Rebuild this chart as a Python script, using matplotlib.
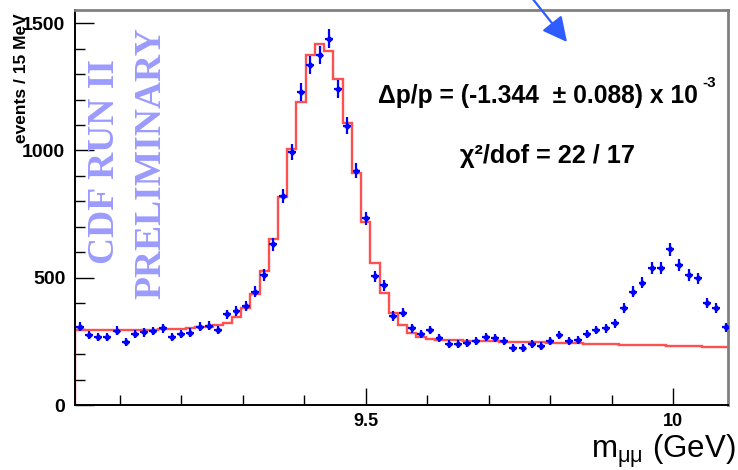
import numpy as np
import matplotlib
matplotlib.use("Agg")
import matplotlib.pyplot as plt
from matplotlib.ticker import MultipleLocator, FixedLocator

# ---- data -------------------------------------------------------------
bin_low = 9.0275      # GeV, lower edge of first bin
bin_width = 0.015     # GeV (15 MeV)

counts = [307, 275, 266, 266, 292, 249, 278, 285, 291, 301,
          268, 279, 284, 307, 311, 295, 356, 370, 388, 445,
          511, 632, 821, 995, 1231, 1336, 1375, 1440, 1240, 1097,
          921, 733, 505, 471, 350, 363, 301, 279, 295, 262,
          240, 240, 242, 253, 266, 262, 253, 225, 225, 240,
          233, 253, 275, 253, 255, 278, 295, 301, 321, 380,
          445, 481, 537, 537, 612, 550, 511, 498, 402, 380, 305]

fit = [293, 293, 293, 294, 294, 294, 295, 295, 296, 297,
       298, 300, 302, 305, 308, 314, 323, 344, 381, 438,
       528, 652, 816, 1004, 1191, 1377, 1417, 1392, 1281, 1108,
       910, 719, 559, 442, 360, 314, 283, 268, 260, 256,
       255, 254, 253, 252, 251, 250, 249, 248, 247, 246,
       246, 245, 244, 243, 242, 241, 240, 239, 238, 237,
       236, 235, 235, 234, 233, 232, 231, 230, 229, 228, 228]

xticks_major = [9.5, 10.0]
xtick_labels = ["9.5", "10"]
yticks_major = [0, 500, 1000, 1500]
ytick_labels = ["0", "500", "1000", "1500"]

# ---- figure -----------------------------------------------------------
W, H = 738, 470
fig = plt.figure(figsize=(W / 100, H / 100), dpi=100)
fig.patch.set_facecolor("white")
ax = fig.add_axes([75 / W, 65 / H, 653 / W, 395 / H])

n = len(counts)
edges = bin_low + bin_width * np.arange(n + 1)
centers = 0.5 * (edges[:-1] + edges[1:])
counts_a = np.array(counts, dtype=float)

ax.stairs(fit, edges, color="#ff5050", lw=1.7, zorder=2)
ax.errorbar(centers, counts_a, yerr=np.sqrt(counts_a), xerr=0.0064,
            fmt="D", ms=2.8, color="#0000ff", ecolor="#0000ff",
            elinewidth=1.6, capsize=0, zorder=3)

ax.set_xlim(9.0275, 10.089)
ax.set_ylim(0, 1552)

ax.xaxis.set_major_locator(FixedLocator(xticks_major))
ax.set_xticklabels(xtick_labels)
ax.xaxis.set_minor_locator(MultipleLocator(0.1))
ax.yaxis.set_major_locator(FixedLocator(yticks_major))
ax.set_yticklabels(ytick_labels)
ax.yaxis.set_minor_locator(MultipleLocator(100))

ax.tick_params(which="major", direction="in", length=12.5, width=1.0,
               colors="black", pad=6)
ax.tick_params(which="minor", direction="in", length=7, width=1.0)
ax.tick_params(axis="y", which="major", length=14, pad=7)
for lab in ax.get_xticklabels():
    lab.set_fontfamily("Liberation Sans")
    lab.set_fontweight("bold")
    lab.set_fontsize(13)
for lab in ax.get_yticklabels():
    lab.set_fontfamily("Liberation Sans")
    lab.set_fontweight("bold")
    lab.set_fontsize(14)

for s in ("left", "bottom"):
    ax.spines[s].set_color("black")
    ax.spines[s].set_linewidth(1.4)
for s in ("top", "right"):
    ax.spines[s].set_color("#808080")
    ax.spines[s].set_linewidth(2.0)

# y label
fig.text(22 / W, 1 - 78 / H, "events / 15 MeV", rotation=90, ha="center",
         va="center", family="Liberation Sans", weight="bold", fontsize=12.5)

# watermark
wm = dict(rotation=90, ha="center", va="center", family="Liberation Serif",
          weight="bold", fontsize=27, color="#9b9bff")
fig.text(105 / W, 1 - 162 / H, "CDF RUN II", **wm)
fig.text(151 / W, 1 - 163 / H, "PRELIMINARY", **wm)

# fit results
fig.text(378 / W, 1 - 103 / H, "\u0394p/p = (-1.344  \u00b1 0.088) x 10",
         ha="left", va="baseline", family="Liberation Sans", weight="bold",
         fontsize=17.7)
fig.text(702 / W, 1 - 87 / H, "-3", ha="left", va="baseline",
         family="Liberation Sans", weight="bold", fontsize=11)
fig.text(460 / W, 1 - 163 / H, "\u03c7\u00b2/dof = 22 / 17", ha="left",
         va="baseline", family="Liberation Sans", weight="bold", fontsize=18.2)

# x label
plt.rcParams["mathtext.fontset"] = "custom"
plt.rcParams["mathtext.rm"] = "Liberation Sans"
plt.rcParams["mathtext.it"] = "Liberation Sans"
fig.text(736 / W, 1 - 458 / H, r"m$_{\mathrm{\mu\mu}}$ (GeV)", ha="right",
         va="baseline", family="Liberation Sans", fontsize=22.5)

# arrow
ax.annotate("", xy=(567, H - 42), xycoords="figure pixels",
            xytext=(532, H + 2), textcoords="figure pixels",
            arrowprops=dict(arrowstyle="-|>,head_length=0.75,head_width=0.38",
                            color="#2f5cff", lw=1.6, mutation_scale=20,
                            shrinkA=0, shrinkB=0),
            annotation_clip=False)

fig.savefig("out.png", dpi=100)
